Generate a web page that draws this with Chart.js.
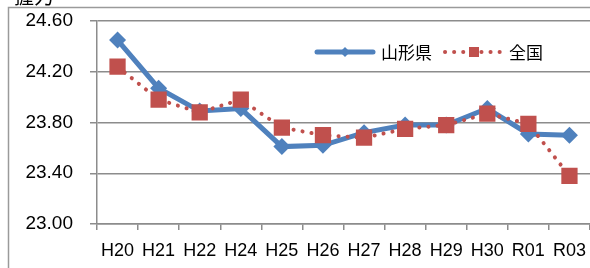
<!DOCTYPE html>
<html>
<head>
<meta charset="utf-8">
<script src="https://cdn.jsdelivr.net/npm/chart.js@4"></script>
<style>
  html, body { margin: 0; padding: 0; background: #fff; }
  #wrap { width: 590px; height: 268px; position: relative; }
</style>
</head>
<body>
<div id="wrap"><canvas id="gripChart" width="590" height="268"></canvas></div>
<script>
const categories = ["H20", "H21", "H22", "H24", "H25", "H26", "H27", "H28", "H29", "H30", "R01", "R03"];
const yamagata = [24.45, 24.07, 23.89, 23.91, 23.61, 23.62, 23.72, 23.78, 23.78, 23.91, 23.71, 23.70];
const zenkoku = [24.24, 23.98, 23.88, 23.98, 23.76, 23.70, 23.68, 23.75, 23.78, 23.87, 23.79, 23.38];
const yTicks = [23.0, 23.4, 23.8, 24.2, 24.6];
const seriesNames = ["山形県", "全国"];
const unitLabel = "握力";

const BLUE = "#4f81bd";
const RED = "#c0504d";
const GRID = "#8c8c8c";

/* frame, unit label and legend drawn on the canvas */
const decor = {
  id: "decor",
  beforeDraw(c) {
    const ctx = c.ctx;
    ctx.save();
    ctx.strokeStyle = "#9a9a9a";
    ctx.lineWidth = 1.5;
    ctx.beginPath();
    ctx.moveTo(8.5, 268);
    ctx.lineTo(8.5, 7.5);
    ctx.lineTo(590, 7.5);
    ctx.stroke();
    ctx.fillStyle = "#000";
    ctx.font = "20px 'Noto Sans CJK JP'";
    ctx.textBaseline = "alphabetic";
    ctx.fillText(unitLabel, 14, 4);
    ctx.restore();
  },
  afterDraw(c) {
    const ctx = c.ctx;
    const y = 52;
    ctx.save();
    // 山形県
    ctx.strokeStyle = BLUE;
    ctx.lineWidth = 5;
    ctx.lineCap = "round";
    ctx.beginPath();
    ctx.moveTo(317, y);
    ctx.lineTo(373, y);
    ctx.stroke();
    ctx.fillStyle = BLUE;
    ctx.beginPath();
    ctx.moveTo(345, y - 5); ctx.lineTo(350, y); ctx.lineTo(345, y + 5); ctx.lineTo(340, y);
    ctx.closePath();
    ctx.fill();
    // 全国
    ctx.strokeStyle = RED;
    ctx.lineWidth = 4;
    ctx.setLineDash([0.1, 9]);
    ctx.beginPath();
    ctx.moveTo(445, y);
    ctx.lineTo(500, y);
    ctx.stroke();
    ctx.setLineDash([]);
    ctx.fillStyle = RED;
    ctx.fillRect(469, y - 5, 10, 10);
    ctx.fillStyle = "#000";
    ctx.font = "17px 'Noto Sans CJK JP'";
    ctx.textBaseline = "middle";
    ctx.fillText(seriesNames[0], 381, y + 1);
    ctx.fillText(seriesNames[1], 509, y + 1);
    ctx.restore();
  }
};

new Chart(document.getElementById("gripChart"), {
  type: "line",
  data: {
    labels: categories,
    datasets: [
      {
        label: seriesNames[1],
        data: zenkoku,
        borderColor: RED,
        backgroundColor: RED,
        borderWidth: 4,
        borderDash: [0.1, 9],
        borderCapStyle: "round",
        pointStyle: "rect",
        pointRadius: 11.5,
        pointBorderWidth: 0,
        tension: 0
      },
      {
        label: seriesNames[0],
        data: yamagata,
        borderColor: BLUE,
        backgroundColor: BLUE,
        borderWidth: 5,
        pointStyle: "rectRot",
        pointRadius: 8.5,
        pointBorderWidth: 0,
        tension: 0
      }
    ]
  },
  options: {
    responsive: false,
    animation: false,
    layout: { autoPadding: false, padding: { top: 21, right: 0, bottom: 0, left: 0 } },
    plugins: {
      legend: { display: false },
      tooltip: { enabled: false }
    },
    scales: {
      x: {
        offset: true,
        grid: {
          offset: true,
          drawOnChartArea: false,
          drawTicks: true,
          tickLength: 6,
          color: GRID,
          lineWidth: 1.5
        },
        border: { display: true, color: GRID, width: 1.5 },
        ticks: {
          color: "#000",
          padding: 10,
          font: { family: "'Liberation Sans'", size: 18 },
          maxRotation: 0,
          autoSkip: false
        },
        afterFit(s) { s.height = 44; s.paddingLeft = 0; s.paddingRight = 0; }
      },
      y: {
        min: 23,
        max: 24.6,
        afterBuildTicks(s) { s.ticks = yTicks.map(v => ({ value: v })); },
        grid: {
          color: GRID,
          lineWidth: 1.5,
          tickLength: 7,
          drawTicks: true
        },
        border: { display: true, color: GRID, width: 1.5 },
        ticks: {
          color: "#000",
          padding: 17,
          font: { family: "'Liberation Sans'", size: 19 },
          callback: v => Number(v).toFixed(2)
        },
        afterFit(s) { s.width = 97; s.paddingTop = 0; s.paddingBottom = 0; }
      }
    }
  },
  plugins: [decor]
});
</script>
</body>
</html>
